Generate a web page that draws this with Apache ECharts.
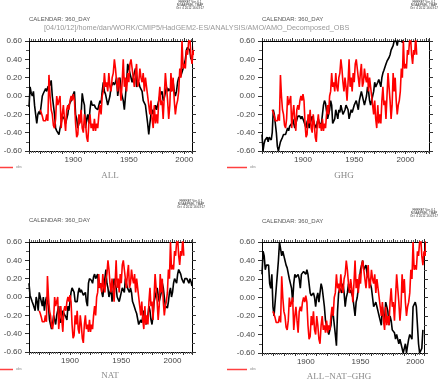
<!DOCTYPE html>
<html><head><meta charset="utf-8">
<script src="https://cdn.jsdelivr.net/npm/echarts@6/dist/echarts.min.js"></script>
<style>html,body{margin:0;padding:0;background:#fff}#c{width:441px;height:382px}</style>
</head><body><div id="c"></div><script>
// ---------- data ----------
const obsStart = 1870;
const obsValues = [
 -0.15,-0.18,-0.22,-0.27,-0.25,-0.27,-0.20,-0.27,0.23,0.00,
 -0.15,-0.20,-0.32,-0.35,-0.25,0.00,-0.10,-0.05,0.00,-0.35,
 -0.20,-0.10,-0.25,-0.38,-0.15,-0.10,-0.15,-0.05,0.00,-0.05,
 0.02,-0.05,-0.30,-0.45,-0.42,-0.20,-0.30,-0.15,-0.35,-0.40,
 -0.20,-0.30,-0.45,-0.50,-0.30,-0.20,-0.35,-0.30,-0.38,-0.25,
 -0.38,-0.30,-0.35,-0.20,-0.10,-0.20,0.00,0.05,0.25,0.10,
 0.15,0.05,0.25,0.10,0.05,0.20,0.25,0.40,0.30,0.15,
 0.05,0.20,0.10,-0.05,0.15,0.40,0.10,0.20,0.05,0.25,
 0.15,0.35,0.40,0.30,0.20,0.10,0.25,0.35,0.10,0.15,
 0.30,0.20,0.15,0.25,0.05,0.20,0.10,0.00,-0.10,-0.20,
 -0.05,-0.25,-0.35,-0.10,-0.30,-0.20,-0.30,-0.05,0.10,-0.10,
 -0.05,-0.25,0.00,0.25,0.10,-0.05,-0.25,-0.10,0.25,0.05,
 0.20,-0.05,-0.20,-0.10,-0.05,0.05,0.30,0.20,0.60,0.30,
 0.35,0.30,0.50,0.45,0.60,0.65,0.45,0.35,0.50,0.45,
 0.65,0.45
];
const allStart = 1860;
const allValues = [
 -0.12,0.10,0.03,0.00,0.05,-0.10,-0.20,-0.30,-0.20,-0.17,
 -0.20,-0.22,0.00,0.03,0.05,0.08,0.05,0.10,0.10,0.12,
 0.17,0.00,-0.10,-0.20,-0.35,-0.38,-0.40,-0.42,-0.35,-0.30,
 -0.22,-0.20,-0.25,-0.30,-0.25,-0.20,-0.10,-0.08,-0.05,-0.03,
 0.02,0.05,-0.20,-0.25,-0.35,-0.30,-0.25,-0.20,0.03,-0.05,
 -0.10,-0.35,-0.25,-0.20,-0.30,-0.15,-0.05,-0.10,-0.08,-0.10,
 -0.13,-0.15,-0.15,-0.10,-0.05,-0.08,0.05,0.15,0.05,0.02,
 0.00,-0.10,-0.05,0.00,0.10,0.12,0.15,0.12,0.15,0.20,
 0.00,0.10,0.20,0.05,0.00,-0.05,-0.15,0.00,0.15,0.35,
 0.30,0.25,0.20,0.15,0.20,0.25,0.30,0.10,0.12,0.15,
 0.10,0.08,0.05,-0.05,-0.05,-0.10,-0.20,-0.30,-0.42,-0.30,
 -0.20,-0.15,-0.20,-0.15,-0.10,-0.15,-0.10,-0.05,0.00,0.02,
 0.05,-0.05,-0.02,0.00,0.10,0.05,0.08,0.10,0.05,0.10,
 0.15,0.05,0.00,0.05,0.15,0.20,0.20,0.22,0.20,0.30,
 0.35,0.40,0.50,0.53,0.53,0.50,0.40
];
const ghgStart = 1860;
const ghgValues = [
 -0.42,-0.60,-0.52,-0.48,-0.47,-0.45,-0.50,-0.45,-0.47,-0.48,
 -0.40,-0.15,-0.20,-0.30,-0.40,-0.55,-0.60,-0.55,-0.50,-0.52,
 -0.45,-0.42,-0.40,-0.42,-0.40,-0.35,-0.38,-0.33,-0.32,-0.30,
 -0.25,-0.30,-0.35,-0.30,-0.28,-0.22,-0.20,-0.22,-0.25,-0.22,
 -0.20,-0.28,-0.30,-0.35,-0.28,-0.25,-0.35,-0.30,-0.30,-0.22,
 -0.20,-0.30,-0.32,-0.35,-0.28,-0.25,-0.30,-0.28,-0.30,-0.20,
 -0.10,-0.05,-0.08,-0.10,-0.25,-0.20,-0.15,-0.05,-0.10,-0.30,
 -0.28,-0.25,-0.15,-0.20,-0.25,-0.15,-0.18,-0.10,-0.15,-0.20,
 -0.18,-0.15,-0.10,-0.12,-0.15,-0.25,-0.20,-0.15,-0.18,-0.20,
 -0.10,-0.12,-0.05,-0.10,-0.15,-0.05,0.00,0.05,0.00,-0.05,
 -0.10,-0.05,0.00,0.10,0.05,-0.05,-0.10,-0.05,0.00,0.05,
 0.15,0.10,0.12,0.15,0.18,0.20,0.10,0.20,0.25,0.28,
 0.30,0.35,0.38,0.40,0.42,0.45,0.50,0.52,0.55,0.60,
 0.62,0.60,0.55,0.62,0.70,0.68,0.65,0.58,0.66,0.72,
 0.75,0.70,0.78,0.80,0.76,0.82,0.85,0.80,0.88,0.90,
 0.86,0.92,0.95,0.90,0.98,1.00,0.95,1.02,1.05,1.00,
 1.08
];
const natStart = 1860;
const natValues = [
 0.15,0.02,0.00,-0.05,-0.08,-0.10,-0.15,0.00,-0.05,-0.15,
 0.05,0.00,-0.05,-0.10,0.00,-0.15,-0.05,0.00,-0.05,-0.10,
 -0.25,-0.30,-0.35,-0.30,-0.20,-0.25,-0.30,-0.20,-0.15,-0.10,
 -0.25,-0.28,-0.30,-0.15,-0.18,-0.20,-0.22,-0.25,-0.10,-0.15,
 -0.05,0.05,0.10,0.08,0.05,-0.05,-0.03,-0.05,0.05,0.10,
 0.05,0.08,0.10,0.02,0.00,0.05,-0.05,-0.10,0.15,0.20,
 0.20,0.18,0.15,0.22,0.25,0.20,0.22,0.25,0.10,0.12,
 0.15,0.05,0.00,0.10,0.20,0.30,0.15,0.10,0.00,0.05,
 0.10,-0.05,0.05,0.20,0.15,0.10,0.00,0.02,-0.05,0.00,
 0.05,0.10,0.08,0.05,0.20,0.15,0.10,0.08,0.05,0.10,
 0.05,-0.05,-0.08,-0.10,-0.15,-0.18,-0.20,-0.30,-0.28,-0.25,
 -0.28,-0.30,-0.15,-0.20,-0.30,-0.25,-0.20,-0.10,-0.15,-0.25,
 -0.30,-0.20,-0.05,0.00,0.05,0.10,0.02,-0.05,0.00,0.05,
 0.15,0.10,0.00,-0.10,-0.10,-0.12,-0.05,0.05,0.10,0.00,
 0.05,0.15,0.20,0.18,0.15,0.25,0.30,0.28,0.25,0.20,
 0.18,0.15,0.20,0.18,0.20,0.18,0.15,0.20,0.17,0.12
];
const resStart = 1860;
const resValues = [
 0.25,0.50,0.45,0.30,0.35,0.37,0.35,0.15,0.10,0.25,
 -0.10,-0.20,-0.05,0.10,0.25,0.40,0.60,0.62,0.45,0.50,
 0.45,0.40,0.35,0.32,0.30,0.20,0.15,0.10,-0.05,0.15,
 0.25,0.22,0.20,0.25,0.20,0.10,0.25,0.25,0.28,0.30,
 0.25,0.30,0.25,0.15,0.05,0.02,0.00,0.05,0.00,-0.10,
 0.00,0.05,-0.05,0.05,0.15,0.10,0.00,-0.10,-0.25,-0.30,
 -0.35,-0.40,-0.35,-0.30,-0.15,-0.18,-0.20,-0.40,-0.52,-0.15,
 0.05,0.10,0.08,0.05,0.15,0.05,-0.10,0.00,0.05,0.15,
 0.05,0.08,0.10,0.00,-0.10,-0.20,-0.05,0.00,0.10,0.20,
 0.30,0.35,0.40,0.30,0.32,0.35,0.25,0.22,0.20,0.15,
 0.10,0.00,-0.10,-0.08,-0.05,-0.10,-0.15,-0.20,-0.25,-0.30,
 -0.10,-0.20,-0.25,-0.05,-0.10,-0.15,-0.30,-0.20,-0.25,-0.35,
 -0.35,-0.38,-0.45,-0.40,-0.45,-0.50,-0.45,-0.50,-0.55,-0.60,
 -0.55,-0.50,-0.60,-0.52,-0.45,-0.40,-0.42,-0.45,-0.10,-0.08,
 -0.05,-0.10,-0.30,-0.50,-0.60,-0.62,-0.55,-0.35
];
const panelTitles = ['ALL', 'GHG', 'NAT', 'ALL\u2212NAT\u2212GHG'];
const xLabelYears = [1900, 1950, 2000];
const calendarText = 'CALENDAR: 360_DAY';
const pathText = '[04/10/12]/home/dan/WORK/CMIP5/HadGEM2-ES/ANALYSIS/AMO/AMO_Decomposed_OBS';
const ferretLines = ['FERRET Ver. 6.1', 'NOAA/PMEL TMAP', 'Oct  4 2012 16:03:17'];
const legendLabel = 'obs';

// ---------- layout ----------
const toPairs = (start, vals) => vals.map((v, i) => [start + i, v]);
const models = [[allStart, allValues], [ghgStart, ghgValues], [natStart, natValues], [resStart, resValues]];
const panels = [
  {grid: {left: 29, top: 41, width: 163, height: 110}, xmin: 1860, xmax: 2007, title: [110, 176], cal: [29, 19], fer: [190, 1], leg: [-7, 167.5]},
  {grid: {left: 262, top: 41, width: 167, height: 110}, xmin: 1860, xmax: 2023, title: [344, 176], cal: [262, 19], fer: [424, 1], leg: [227, 167.5]},
  {grid: {left: 29, top: 242, width: 163, height: 110}, xmin: 1860, xmax: 2019, title: [110, 376], cal: [29, 220], fer: [191, 200], leg: [-7, 369.5]},
  {grid: {left: 262, top: 242, width: 162, height: 111}, xmin: 1860, xmax: 2008, title: [339, 377], cal: [262, 221], fer: [424, 209], leg: [227, 369.5]}
];
const FONT = '"Liberation Sans", Arial, sans-serif';
const grids = [], xAxes = [], yAxes = [], series = [], graphics = [];
panels.forEach((p, i) => {
  grids.push(Object.assign({containLabel: false}, p.grid));
  const xBase = {
    type: 'value', gridIndex: i, min: p.xmin, max: p.xmax, interval: 10,
    axisLine: {show: true, onZero: false, lineStyle: {color: '#000', width: 1}},
    axisTick: {show: true, length: 3, lineStyle: {color: '#333'}},
    minorTick: {show: true, splitNumber: 5, length: 2, lineStyle: {color: '#666'}},
    splitLine: {show: false}
  };
  xAxes.push(Object.assign({}, xBase, {position: 'bottom',
    axisLabel: {show: true, margin: 5, fontSize: 8, fontFamily: FONT, color: '#444',
      formatter: v => xLabelYears.indexOf(v) >= 0 ? String(v) : ''}}));
  xAxes.push(Object.assign({}, xBase, {position: 'top', axisLabel: {show: false}}));
  const yBase = {
    type: 'value', gridIndex: i, min: -0.6, max: 0.6, interval: 0.2,
    axisLine: {show: true, onZero: false, lineStyle: {color: '#000', width: 1}},
    axisTick: {show: true, length: 4, lineStyle: {color: '#333'}},
    minorTick: {show: true, splitNumber: 2, length: 3, lineStyle: {color: '#555'}},
    splitLine: {show: false}
  };
  yAxes.push(Object.assign({}, yBase, {position: 'left',
    axisLabel: {show: true, margin: 7, fontSize: 8, fontFamily: FONT, color: '#444',
      formatter: v => v.toFixed(2)}}));
  yAxes.push(Object.assign({}, yBase, {position: 'right', axisLabel: {show: false}}));
  series.push({type: 'line', xAxisIndex: 2 * i, yAxisIndex: 2 * i, data: toPairs(models[i][0], models[i][1]),
    showSymbol: false, clip: true, lineStyle: {color: '#000', width: 1.6}, z: 3});
  series.push({type: 'line', xAxisIndex: 2 * i, yAxisIndex: 2 * i, data: toPairs(obsStart, obsValues),
    showSymbol: false, clip: true, lineStyle: {color: '#ff0000', width: 1.6}, z: 4});

  graphics.push({type: 'text', position: [p.title[0], p.title[1]], style: {text: panelTitles[i],
    font: '9px "Liberation Serif", "Times New Roman", serif', fill: '#888', textAlign: 'center', textVerticalAlign: 'middle'}});
  graphics.push({type: 'text', position: [p.cal[0], p.cal[1]], style: {text: calendarText,
    font: '6px ' + FONT, fill: '#555', textVerticalAlign: 'middle'}});
  ferretLines.forEach((t, k) => graphics.push({type: 'text', position: [p.fer[0], p.fer[1] + k * 3], style: {text: t,
    font: '3px ' + FONT, fill: '#333', textAlign: 'center', textVerticalAlign: 'top'}}));
  graphics.push({type: 'line', shape: {x1: p.leg[0], y1: p.leg[1], x2: p.leg[0] + 20, y2: p.leg[1]},
    style: {stroke: '#ff4040', lineWidth: 1.5}});
  graphics.push({type: 'text', position: [p.leg[0] + 23, p.leg[1]], style: {text: legendLabel,
    font: '3.5px ' + FONT, fill: '#888', textVerticalAlign: 'middle'}});
});
graphics.push({type: 'text', position: [44, 28], style: {text: pathText, font: '7.3px ' + FONT, fill: '#999', textVerticalAlign: 'middle'}});

const chart = echarts.init(document.getElementById('c'), null, {renderer: 'canvas'});
chart.setOption({
  animation: false, backgroundColor: '#fff',
  grid: grids, xAxis: xAxes, yAxis: yAxes, series: series, graphic: graphics
});
</script></body></html>
